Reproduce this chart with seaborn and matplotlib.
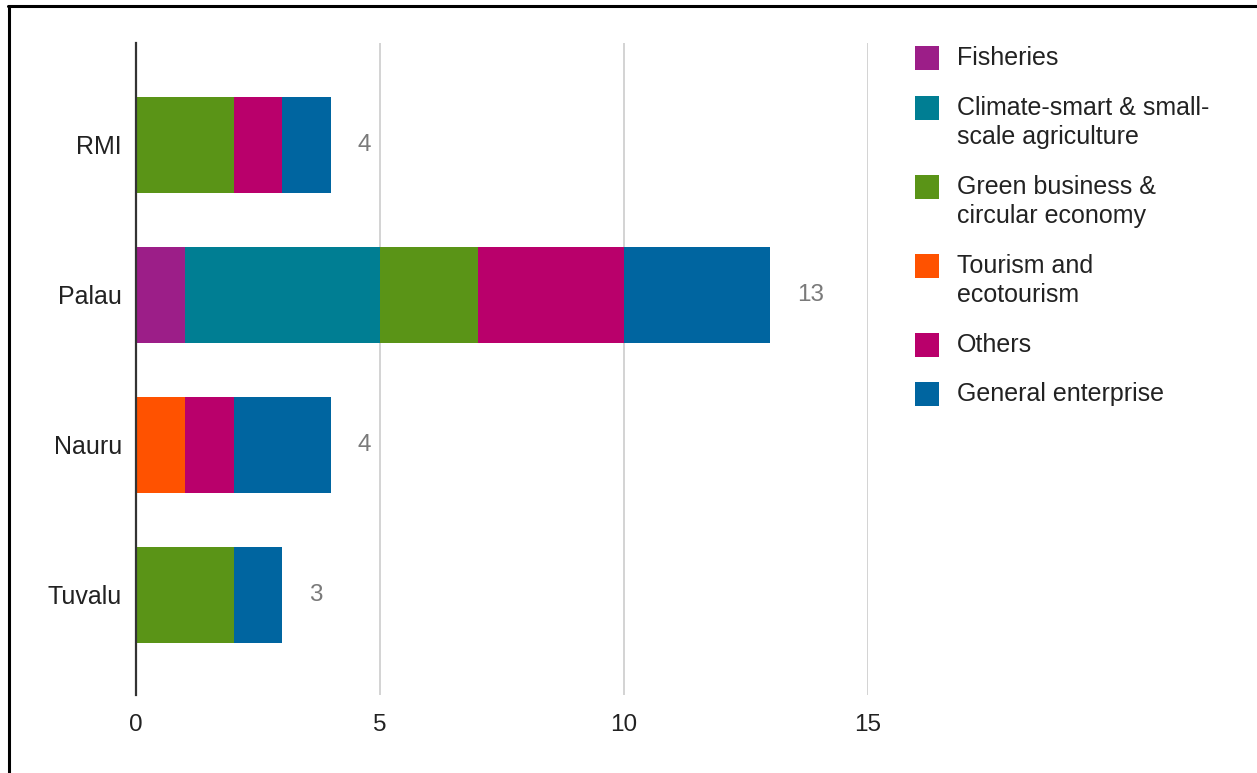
import matplotlib
matplotlib.use("Agg")
import matplotlib.pyplot as plt
import seaborn as sns
import numpy as np
import pandas as pd
from matplotlib.patches import Rectangle
from matplotlib.lines import Line2D

countries = ["RMI", "Palau", "Nauru", "Tuvalu"]
series_names = [
    "Fisheries",
    "Climate-smart & small-\nscale agriculture",
    "Green business &\ncircular economy",
    "Tourism and\necotourism",
    "Others",
    "General enterprise",
]
fisheries = [0, 1, 0, 0]
climate_smart = [0, 4, 0, 0]
green_business = [2, 2, 0, 2]
tourism = [0, 0, 1, 0]
others = [1, 3, 1, 0]
general_enterprise = [1, 3, 2, 1]
colors = ["#9C1E88", "#007E93", "#5A9417", "#FF5200", "#B9006B", "#0065A0"]
x_ticks = [0, 5, 10, 15]

series_values = [fisheries, climate_smart, green_business, tourism, others, general_enterprise]

sns.set_theme(style="white")
plt.rcParams["font.family"] = ["Liberation Sans", "DejaVu Sans"]

W, H = 1257, 773
fig = plt.figure(figsize=(W / 100, H / 100), dpi=100)
ax = fig.add_axes([136 / W, 1 - 695 / H, (868 - 136) / W, (695 - 43) / H])

vals = np.array(series_values, dtype=float)
cums = np.cumsum(vals, axis=0)

# draw cumulative bars from the outermost to innermost so they stack visually
for k in range(len(series_values) - 1, -1, -1):
    df = pd.DataFrame({"country": countries, "value": cums[k]})
    sns.barplot(data=df, x="value", y="country", order=countries, color=colors[k],
                width=0.64, linewidth=0, saturation=1, ax=ax, orient="h",
                zorder=3 + (len(series_values) - k) * 0.01)

totals = vals.sum(axis=0)
for i, t in enumerate(totals):
    ax.annotate(f"{int(t)}", xy=(t, i), xytext=(19, 0), textcoords="offset points",
                va="center", ha="left", color="#7a7a7a", fontsize=17.5)

ax.set_xlim(0, 15)
ax.set_ylim(3.67, -0.68)
ax.set_xticks(x_ticks)
ax.set_xticklabels([str(v) for v in x_ticks])
ax.set_xlabel("")
ax.set_ylabel("")
ax.tick_params(axis="x", length=0, pad=14, labelsize=17.5, labelcolor="#222222")
ax.tick_params(axis="y", length=0, pad=10, labelsize=18, labelcolor="#222222")
ax.xaxis.grid(True, color="#cccccc", linewidth=1.2, zorder=0)
ax.yaxis.grid(False)
ax.set_axisbelow(True)
for s in ["top", "right", "bottom"]:
    ax.spines[s].set_visible(False)
ax.spines["left"].set_color("#333333")
ax.spines["left"].set_linewidth(1.6)
ax.spines["left"].set_zorder(10)

# legend drawn manually (handle aligned to first line of each label)
centers = [58, 108, 187, 266, 345, 394]
for name, col, cy in zip(series_names, colors, centers):
    fig.add_artist(Rectangle((915 / W, 1 - (cy + 12) / H), 24 / W, 24 / H,
                             transform=fig.transFigure, facecolor=col, edgecolor="none"))
    for j, line in enumerate(name.split("\n")):
        fig.text(957 / W, 1 - (cy + j * 29) / H, line, va="center", ha="left",
                 fontsize=18, color="#222222")

# page border (top and left)
fig.add_artist(Line2D([8 / W, 1.0], [1 - 6 / H, 1 - 6 / H], transform=fig.transFigure,
                      color="black", linewidth=2.2))
fig.add_artist(Line2D([9 / W, 9 / W], [0, 1 - 6 / H], transform=fig.transFigure,
                      color="black", linewidth=2.2))

fig.savefig("out.png", dpi=100)
